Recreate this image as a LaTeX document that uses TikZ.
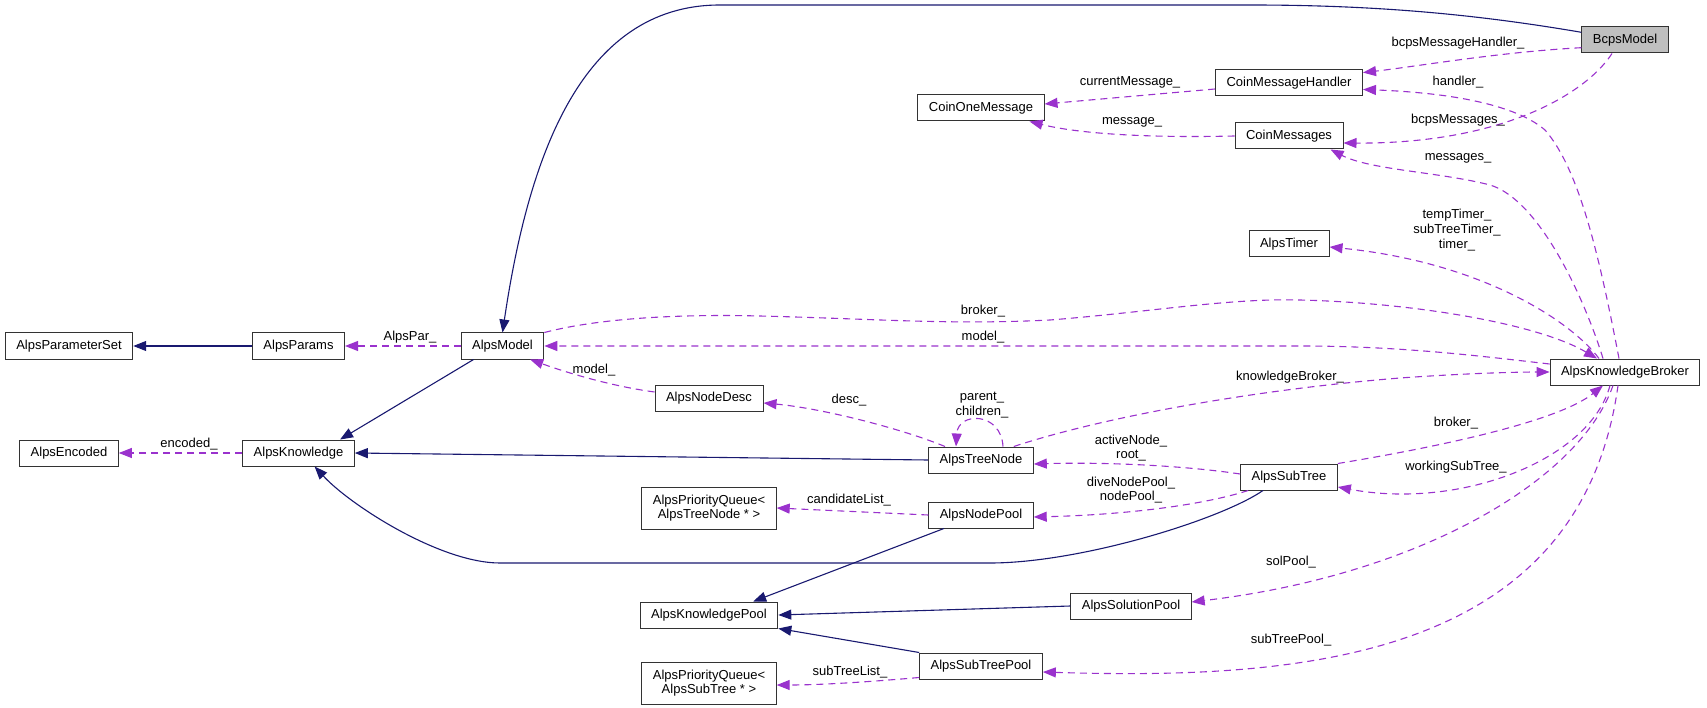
\documentclass[tikz,border=0pt]{standalone}
\usepackage{fontspec}
\setmainfont{Liberation Sans}
\usetikzlibrary{arrows.meta,calc}
\definecolor{navy}{HTML}{191970}
\definecolor{purp}{HTML}{9A32CD}
\definecolor{boxgray}{HTML}{BFBFBF}
\begin{document}
\begin{tikzpicture}[x=1pt,y=-1pt,
  cls/.style={draw=black!80, line width=1pt, fill=white, font=\fontsize{13}{15}\selectfont,
    inner xsep=11pt, inner ysep=0pt, minimum height=26pt, text height=9.5pt, text depth=2.8pt},
  clstwo/.style={draw=black!80, line width=1pt, fill=white, font=\fontsize{13}{14.5}\selectfont,
    inner xsep=11pt, inner ysep=0pt, minimum height=42pt, align=center},
  lbl/.style={font=\fontsize{13}{14.7}\selectfont, inner sep=0pt, align=center},
  inh/.style={draw=navy, line width=1.1pt, -{Triangle[length=13pt,width=10pt]}},
  use/.style={draw=purp, line width=1.1pt, dash pattern=on 7pt off 5pt, -{Triangle[length=13pt,width=10pt]}},
]
\useasboundingbox (0,0) rectangle (1707,708);

% ---- nodes ----
\node[cls, fill=boxgray] (bcps) at (1625,40) {BcpsModel};
\node[cls] (cmh) at (1289,83) {CoinMessageHandler};
\node[cls] (com) at (981,108) {CoinOneMessage};
\node[cls] (cm) at (1289,136) {CoinMessages};
\node[cls] (timer) at (1289,244) {AlpsTimer};
\node[cls] (pset) at (69,346) {AlpsParameterSet};
\node[cls] (params) at (298.5,346) {AlpsParams};
\node[cls] (model) at (502.5,346) {AlpsModel};
\node[cls] (akb) at (1625,372) {AlpsKnowledgeBroker};
\node[cls] (ndesc) at (709,398) {AlpsNodeDesc};
\node[cls] (enc) at (69,453) {AlpsEncoded};
\node[cls] (know) at (298.5,453) {AlpsKnowledge};
\node[cls] (tn) at (981,460) {AlpsTreeNode};
\node[cls] (subtree) at (1289,477) {AlpsSubTree};
\node[clstwo] (pqtn) at (709,508) {AlpsPriorityQueue<\\AlpsTreeNode * >};
\node[cls] (npool) at (981,515) {AlpsNodePool};
\node[cls] (solpool) at (1131,606) {AlpsSolutionPool};
\node[cls] (kpool) at (709,615) {AlpsKnowledgePool};
\node[cls] (stpool) at (981,666) {AlpsSubTreePool};
\node[clstwo] (pqst) at (709,683) {AlpsPriorityQueue<\\AlpsSubTree * >};

% ---- inheritance (solid) ----
\draw[inh] (bcps.170) .. controls (1480,15) and (1380,5) .. (1250,5) -- (720,5)
   .. controls (580,5) and (528,160) .. (model.north);
\draw[inh] (params.west) -- (pset.east);
\draw[inh] (model.205) -- (know.18);
\draw[inh] (tn.west) -- (know.east);
\draw[inh] ($(subtree.south)+(-26,0)$) .. controls (1220,520) and (1080,563) .. (990,563) -- (500,563)
   .. controls (440,563) and (350,505) .. (know.-40);
\draw[inh] (npool.200) -- (kpool.17);
\draw[inh] (solpool.west) -- (kpool.east);
\draw[inh] (stpool.north west) -- (kpool.south east);

% ---- usage (dashed) ----
\draw[use] (bcps.-170) .. controls (1500,52) and (1420,66) .. (cmh.8);
\draw[use] ($(akb.north)+(-6,0)$) .. controls (1600,260) and (1580,170) .. (1545,130)
   .. controls (1510,100) and (1430,92) .. (cmh.-5);
\draw[use] ($(bcps.south)+(-13,0)$) .. controls (1585,95) and (1500,144) .. ($(cm.east)+(0,7)$);
\draw[use] ($(akb.north)+(-22,0)$) .. controls (1585,300) and (1540,200) .. (1490,185)
   .. controls (1440,172) and (1370,170) .. (cm.-18);
\draw[use] ($(akb.north)+(-26,0)$) .. controls (1570,320) and (1480,262) .. ($(timer.east)+(0,3)$);
\draw[use] (model.west) -- (params.east);
\draw[use] ($(akb.west)+(0,-8)$) .. controls (1480,356) and (1400,346) .. (1300,346) -- (model.east);
\draw[use] (model.north east) .. controls (600,318) and (680,314) .. (760,316)
   .. controls (880,319) and (950,325) .. (1050,320)
   .. controls (1150,312) and (1230,298) .. (1300,300)
   .. controls (1420,303) and (1540,325) .. ($(akb.north)+(-28,0)$);
\draw[use] ($(ndesc.west)+(0,-6)$) .. controls (610,386) and (565,372) .. (model.-26);
\draw[use] ($(tn.north)+(-36,0)$) .. controls (900,428) and (820,408) .. ($(ndesc.east)+(0,5)$);
\draw[use] ($(tn.north)+(22,0)$) .. controls +(-2,-35) and +(2,-35) .. ($(tn.north)+(-25,0)$);
\draw[use] ($(tn.north east)+(-20,0)$) .. controls (1100,418) and (1250,390) .. (1400,378)
   .. controls (1470,373) and (1520,372) .. (akb.west);
\draw[use] ($(subtree.west)+(0,-3)$) .. controls (1180,465) and (1100,462) .. ($(tn.east)+(0,4)$);
\draw[use] ($(subtree.south west)+(8,0)$) .. controls (1200,506) and (1120,515) .. ($(npool.east)+(0,2)$);
\draw[use] (subtree.north east) .. controls (1450,445) and (1560,420) .. ($(akb.south)+(-22,0)$);
\draw[use] ($(akb.south)+(-15,0)$) .. controls (1590,460) and (1460,510) .. ($(subtree.east)+(0,10)$);
\draw[use] ($(akb.south)+(-12,0)$) .. controls (1580,480) and (1420,575) .. ($(solpool.east)+(0,-4)$);
\draw[use] ($(akb.south)+(-7,0)$) .. controls (1580,660) and (1300,680) .. ($(stpool.east)+(0,6)$);
\draw[use] (npool.west) -- (pqtn.east);
\draw[use] ($(stpool.south west)+(0,-2)$) .. controls (890,680) and (830,685) .. ($(pqst.east)+(0,2)$);
\draw[use] ($(cmh.west)+(0,6)$) -- ($(com.east)+(0,-4)$);
\draw[use] (cm.west) .. controls (1150,138) and (1080,134) .. ($(com.south east)+(-15,0)$);
\draw[use] (know.west) -- (enc.east);

% ---- edge labels ----
\node[lbl] (lbmh) at (1458,43) {bcpsMessageHandler\_};
\node[lbl] (lhand) at (1458,82) {handler\_};
\node[lbl] (lbmsg) at (1458,120) {bcpsMessages\_};
\node[lbl] (lmsgs) at (1458,158) {messages\_};
\node[lbl] (ltimer) at (1457,230) {tempTimer\_\\subTreeTimer\_\\timer\_};
\node[lbl] (lcur) at (1130,82) {currentMessage\_};
\node[lbl] (lmsg) at (1132,122) {message\_};
\node[lbl] (lbrk) at (983,311) {broker\_};
\node[lbl] (lmod) at (983,337) {model\_};
\node[lbl] (lpar) at (410,337) {AlpsPar\_};
\node[lbl] (lenc) at (189,444) {encoded\_};
\node[lbl] (lmod2) at (594,370) {model\_};
\node[lbl] (ldesc) at (849,400) {desc\_};
\node[lbl] (lpc) at (982,405) {parent\_\\children\_};
\node[lbl] (lkb) at (1290,377) {knowledgeBroker\_};
\node[lbl] (lact) at (1131,448) {activeNode\_\\root\_};
\node[lbl] (ldive) at (1131,490) {diveNodePool\_\\nodePool\_};
\node[lbl] (lbrk2) at (1456,423) {broker\_};
\node[lbl] (lwst) at (1456,467) {workingSubTree\_};
\node[lbl] (lsol) at (1291,562) {solPool\_};
\node[lbl] (lstp) at (1291,640) {subTreePool\_};
\node[lbl] (lcand) at (849,500) {candidateList\_};
\node[lbl] (lstl) at (850,672) {subTreeList\_};
\end{tikzpicture}
\end{document}
